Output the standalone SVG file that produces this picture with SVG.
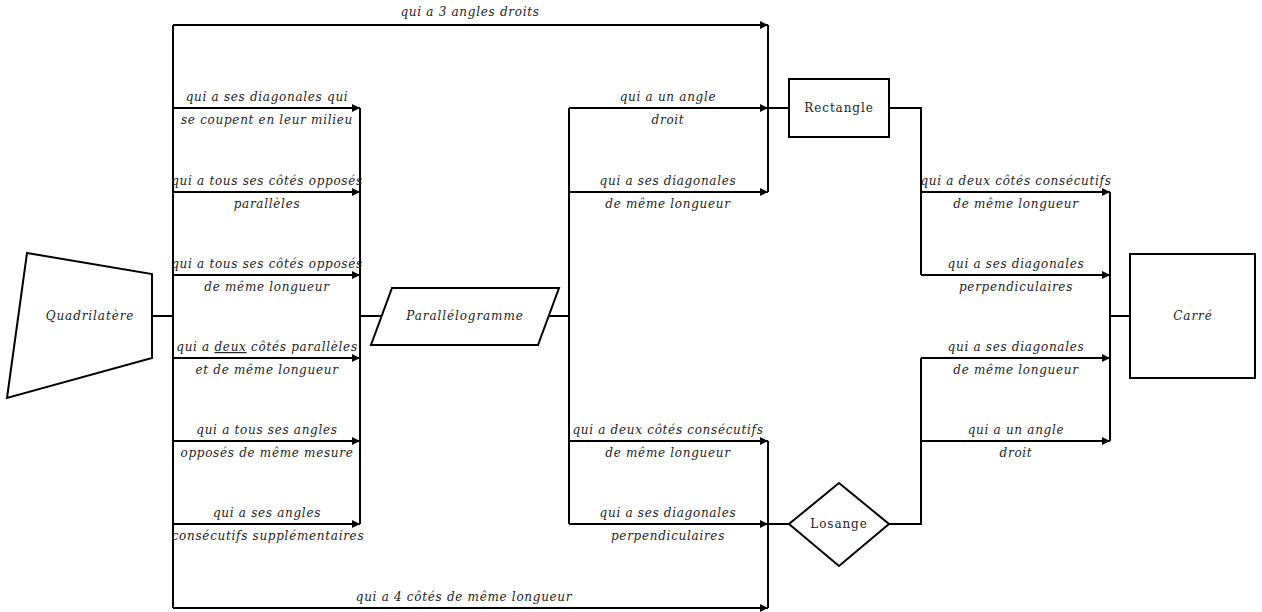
<svg xmlns="http://www.w3.org/2000/svg" width="1262" height="612" viewBox="0 0 1262 612">
<defs>
<style>
.ln{fill:none;stroke:#000;stroke-width:2}
.nd{fill:#fff;stroke:#000;stroke-width:2}
.t{font-family:'DejaVu Serif',serif;font-size:12px;font-style:italic;letter-spacing:0.7px;fill:#222;text-anchor:middle}
.n{font-family:'DejaVu Serif',serif;font-size:12px;letter-spacing:0.9px;fill:#222;text-anchor:middle;dominant-baseline:central}
.ni{font-style:italic}
</style>
<marker id="ar" viewBox="0 0 10 10" refX="10" refY="5" markerWidth="4" markerHeight="4" orient="auto" markerUnits="strokeWidth">
<path d="M0,0 L10,5 L0,10 z" fill="#000"/>
</marker>
</defs>
<rect width="1262" height="612" fill="#fff"/>
<g id="connectors">
<path class="ln" d="M152,316 H173"/>
<path class="ln" d="M173,25 V608"/>
<path class="ln" d="M173,25 H768" marker-end="url(#ar)"/>
<path class="ln" d="M173,108 H360" marker-end="url(#ar)"/>
<path class="ln" d="M173,192 H360" marker-end="url(#ar)"/>
<path class="ln" d="M173,275 H360" marker-end="url(#ar)"/>
<path class="ln" d="M173,358 H360" marker-end="url(#ar)"/>
<path class="ln" d="M173,441 H360" marker-end="url(#ar)"/>
<path class="ln" d="M173,524 H360" marker-end="url(#ar)"/>
<path class="ln" d="M173,608 H768" marker-end="url(#ar)"/>
<path class="ln" d="M360,108 V524"/>
<path class="ln" d="M360,316 H381"/>
<path class="ln" d="M548,316 H569"/>
<path class="ln" d="M569,108 V524"/>
<path class="ln" d="M569,108 H768" marker-end="url(#ar)"/>
<path class="ln" d="M569,192 H768" marker-end="url(#ar)"/>
<path class="ln" d="M569,441 H768" marker-end="url(#ar)"/>
<path class="ln" d="M569,524 H768" marker-end="url(#ar)"/>
<path class="ln" d="M768,25 V192"/>
<path class="ln" d="M768,441 V608"/>
<path class="ln" d="M768,108 H789"/>
<path class="ln" d="M768,524 H789"/>
<path class="ln" d="M889,108 H921 V275"/>
<path class="ln" d="M889,524 H921 V358"/>
<path class="ln" d="M921,192 H1110" marker-end="url(#ar)"/>
<path class="ln" d="M921,275 H1110" marker-end="url(#ar)"/>
<path class="ln" d="M921,358 H1110" marker-end="url(#ar)"/>
<path class="ln" d="M921,441 H1110" marker-end="url(#ar)"/>
<path class="ln" d="M1110,192 V441"/>
<path class="ln" d="M1110,316 H1130"/>
</g>
<g id="labels">
<text class="t" x="470" y="16">qui a 3 angles droits</text>
<text class="t" x="267" y="101">qui a ses diagonales qui</text>
<text class="t" x="267" y="124">se coupent en leur milieu</text>
<text class="t" x="267" y="185">qui a tous ses côtés opposés</text>
<text class="t" x="267" y="208">parallèles</text>
<text class="t" x="267" y="268">qui a tous ses côtés opposés</text>
<text class="t" x="267" y="291">de même longueur</text>
<text class="t" x="267" y="351">qui a <tspan text-decoration="underline">deux</tspan> côtés parallèles</text>
<text class="t" x="267" y="374">et de même longueur</text>
<text class="t" x="267" y="434">qui a tous ses angles</text>
<text class="t" x="267" y="457">opposés de même mesure</text>
<text class="t" x="267" y="517">qui a ses angles</text>
<text class="t" x="268" y="540">consécutifs supplémentaires</text>
<text class="t" x="464" y="601">qui a 4 côtés de même longueur</text>
<text class="t" x="668" y="101">qui a un angle</text>
<text class="t" x="668" y="124">droit</text>
<text class="t" x="668" y="185">qui a ses diagonales</text>
<text class="t" x="668" y="208">de même longueur</text>
<text class="t" x="668" y="434">qui a deux côtés consécutifs</text>
<text class="t" x="668" y="457">de même longueur</text>
<text class="t" x="668" y="517">qui a ses diagonales</text>
<text class="t" x="668" y="540">perpendiculaires</text>
<text class="t" x="1016" y="185">qui a deux côtés consécutifs</text>
<text class="t" x="1016" y="208">de même longueur</text>
<text class="t" x="1016" y="268">qui a ses diagonales</text>
<text class="t" x="1016" y="291">perpendiculaires</text>
<text class="t" x="1016" y="351">qui a ses diagonales</text>
<text class="t" x="1016" y="374">de même longueur</text>
<text class="t" x="1016" y="434">qui a un angle</text>
<text class="t" x="1016" y="457">droit</text>
</g>
<g id="quadrilatere">
<polygon class="nd" points="27,253 152,274 152,358 7,398"/>
<text class="n ni" x="90" y="316">Quadrilatère</text>
</g>
<g id="parallelogramme">
<polygon class="nd" points="392,288 559,288 538,345 371,345"/>
<text class="n ni" x="465" y="316">Parallélogramme</text>
</g>
<g id="rectangle">
<rect class="nd" x="789" y="79" width="100" height="58"/>
<text class="n" x="839" y="108">Rectangle</text>
</g>
<g id="losange">
<polygon class="nd" points="839,483 889,524 839,566 789,524"/>
<text class="n" x="839" y="524">Losange</text>
</g>
<g id="carre">
<rect class="nd" x="1130" y="254" width="125" height="124"/>
<text class="n ni" x="1193" y="316">Carré</text>
</g>
</svg>
